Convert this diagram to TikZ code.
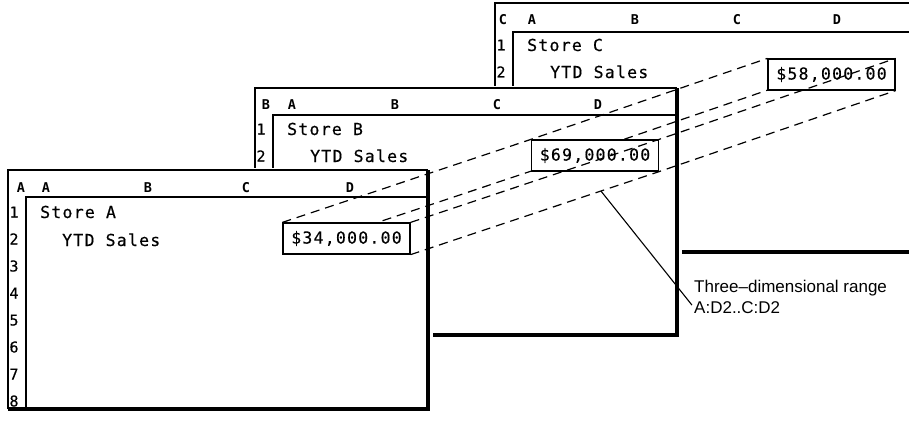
\documentclass[tikz,border=0pt]{standalone}
\usepackage{fontspec}
\usetikzlibrary{calc}
\newfontfamily\cellfam[LetterSpace=7.5,FakeBold=0.4]{DejaVu Sans Mono}
\newfontfamily\numfam[FakeBold=0.4]{DejaVu Sans Mono}
\newfontfamily\monofam{DejaVu Sans Mono}
\newfontfamily\lblfam{Liberation Sans}
\newcommand\cellfont{\cellfam\fontsize{16.5}{16.5}\selectfont}
\newcommand\hdrfont{\monofam\bfseries\fontsize{13.5}{13.5}\selectfont}
\newcommand\numfont{\numfam\fontsize{15}{15}\selectfont}
\newcommand\lblfont{\lblfam\fontsize{17}{17}\selectfont}
\begin{document}
\begin{tikzpicture}[x=1pt,y=-1pt,
  edge/.style={line width=1.2pt},
  shadow/.style={line width=4pt},
  hdr/.style={font=\hdrfont, inner sep=0pt, anchor=base},
  rnum/.style={font=\numfont, inner sep=0pt, anchor=base},
  cell/.style={font=\cellfont, inner sep=0pt, anchor=base west},
  valbox/.style={draw, line width=1.2pt, fill=white, minimum width=127pt, minimum height=31pt, inner sep=0pt, font=\cellfont},
  rng/.style={line width=1.2pt, dash pattern=on 9pt off 6pt},
  leader/.style={line width=1.1pt},
  lbl/.style={font=\lblfont, inner sep=0pt, anchor=base west}]
\useasboundingbox (0,0) rectangle (909,420);
\clip (0,0) rectangle (909,420);

% ---------- Sheet C ----------
\fill[white] (495,3) rectangle (930,254);
\draw[edge] (495,254) -- (495,3) -- (930,3);
\draw[shadow] (495,252) -- (930,252);
\draw[edge] (513,254) -- (513,32) -- (930,32);
\node[hdr] (cS) at (503,24.9) {C};
\node[hdr] (cA) at (532,24.9) {A};
\node[hdr] (cB) at (635,24.9) {B};
\node[hdr] (cC) at (737,24.9) {C};
\node[hdr] (cD) at (837,24.9) {D};
\node[rnum] (c1) at (501,50.5) {1};
\node[rnum] (c2) at (501,77.5) {2};
\node[cell] (cStore) at (527,51) {Store C};
\node[cell] (cYTD) at (550,78) {YTD Sales};

% ---------- Sheet B ----------
\fill[white] (253,86) rectangle (682,340);
\draw[edge] (255,335) -- (255,88) -- (677,88);
\draw[shadow] (677,88) -- (677,335) -- (255,335);
\draw[edge] (273,335) -- (273,115) -- (677,115);
\node[hdr] (bS) at (266,109.9) {B};
\node[hdr] (bA) at (292,109.9) {A};
\node[hdr] (bB) at (395,109.9) {B};
\node[hdr] (bC) at (497,109.9) {C};
\node[hdr] (bD) at (598,109.9) {D};
\node[rnum] (b1) at (261,134.5) {1};
\node[rnum] (b2) at (261,161.5) {2};
\node[cell] (bStore) at (287,135) {Store B};
\node[cell] (bYTD) at (310,162) {YTD Sales};

% ---------- Sheet A ----------
\fill[white] (6,168) rectangle (433,414);
\draw[edge] (8,409) -- (8,170) -- (428,170);
\draw[shadow] (428,170) -- (428,409) -- (8,409);
\draw[edge] (26,409) -- (26,197) -- (428,197);
\node[hdr] (aS) at (21,192.9) {A};
\node[hdr] (aA) at (46,192.9) {A};
\node[hdr] (aB) at (148,192.9) {B};
\node[hdr] (aC) at (246,192.9) {C};
\node[hdr] (aD) at (350,192.9) {D};
\foreach \r in {1,...,8}
  \node[rnum] (a\r) at (14,{212+27*(\r-1)+5.5}) {\r};
\node[cell] (aStore) at (40,218) {Store A};
\node[cell] (aYTD) at (62,246) {YTD Sales};

% ---------- Range boxes ----------
\coordinate (pA) at (346.5,238.5);
\coordinate (pB) at (595,155.5);
\coordinate (pC) at (831.5,74.5);
% hidden lower-left edge (drawn first, boxes cover it)
\path (pA) ++(-63.5,15.5) coordinate (aSW);
\path (pB) ++(-63.5,15.5) coordinate (bSW);
\path (pC) ++(-63.5,15.5) coordinate (cSW);
\draw[rng] (aSW) -- (bSW) -- (cSW);

\node[valbox] (va) at (pA) {\$34,000.00};
\node[valbox] (vb) at (pB) {\$69,000.00};
\node[valbox] (vc) at (pC) {\$58,000.00};

\draw[rng] (va.north west) -- (vb.north west) -- (vc.north west);
\draw[rng] (va.north east) -- (vb.north east) -- (vc.north east);
\draw[rng] (va.south east) -- (vb.south east) -- (vc.south east);

% ---------- Label ----------
\node[lbl] (l1) at (694,292) {Three–dimensional range};
\node[lbl] (l2) at (694,313) {A:D2..C:D2};
\coordinate (lp) at ($(va.south east)!0.766!(vb.south east)$);
\draw[leader] (lp) -- ($(l2.west)+(-2,-2)$);
\end{tikzpicture}
\end{document}
